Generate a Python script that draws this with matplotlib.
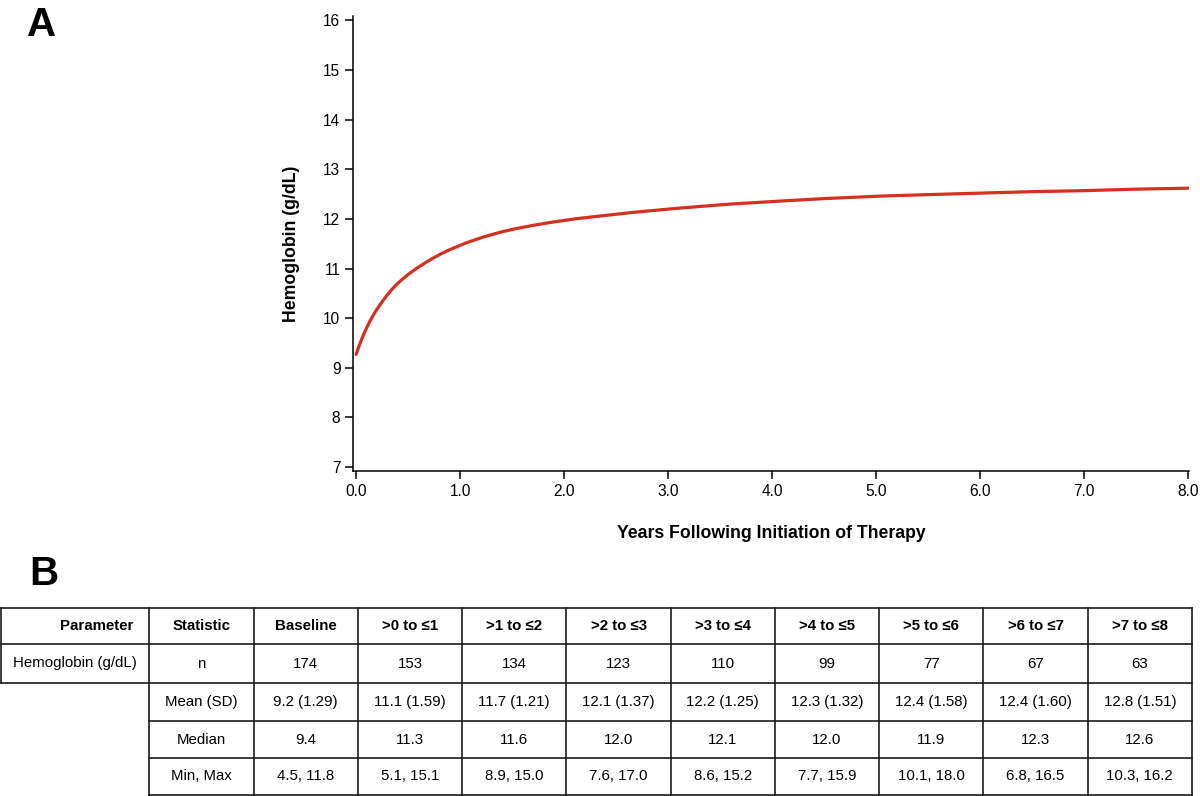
import matplotlib
matplotlib.use("Agg")
import matplotlib.pyplot as plt

plt.rcParams['font.family'] = ['Liberation Sans', 'DejaVu Sans']

# curve (years, g/dL)
years = [0.0, 0.03, 0.07, 0.1, 0.135, 0.165, 0.2, 0.23, 0.26, 0.3, 0.34, 0.38, 0.42,
         0.5, 0.58, 0.66, 0.74, 0.82, 0.9, 1.06, 1.23, 1.4, 1.55, 1.7, 1.87, 2.1,
         2.35, 2.7, 3.12, 3.6, 4.08, 4.5, 5.04, 5.5, 6.0, 6.5, 7.0, 7.5, 8.0]
hb = [9.27, 9.45, 9.66, 9.80, 9.95, 10.06, 10.18, 10.27, 10.36, 10.47, 10.57, 10.66, 10.74,
      10.88, 11.0, 11.11, 11.21, 11.30, 11.38, 11.52, 11.64, 11.74, 11.81, 11.87, 11.93, 12.0,
      12.06, 12.14, 12.22, 12.30, 12.36, 12.41, 12.46, 12.49, 12.52, 12.55, 12.57, 12.60, 12.62]

# table values
headers = ["Parameter", "Statistic", "Baseline", ">0 to ≤1", ">1 to ≤2", ">2 to ≤3",
           ">3 to ≤4", ">4 to ≤5", ">5 to ≤6", ">6 to ≤7", ">7 to ≤8"]
stats = ["n", "Mean (SD)", "Median", "Min, Max"]
n_vals = [174, 153, 134, 123, 110, 99, 77, 67, 63]
means = [9.2, 11.1, 11.7, 12.1, 12.2, 12.3, 12.4, 12.4, 12.8]
sds = [1.29, 1.59, 1.21, 1.37, 1.25, 1.32, 1.58, 1.60, 1.51]
medians = [9.4, 11.3, 11.6, 12.0, 12.1, 12.0, 11.9, 12.3, 12.6]
mins = [4.5, 5.1, 8.9, 7.6, 8.6, 7.7, 10.1, 6.8, 10.3]
maxs = [11.8, 15.1, 15.0, 17.0, 15.2, 15.9, 18.0, 16.5, 16.2]

W, H = 1200, 796
fig = plt.figure(figsize=(12, 7.96), dpi=100)

# panel A
ax = fig.add_axes([353 / W, 1 - 471 / H, (1189 - 353) / W, (471 - 16) / H])
ax.plot(years, hb, color='#d52f20', lw=2.3, solid_capstyle='round',
        solid_joinstyle='round')
ax.set_xlim(-0.03, 8.01)
ax.set_ylim(6.92, 16.09)
ax.set_xticks(range(0, 9))
ax.set_xticklabels([f"{v:.1f}" for v in range(0, 9)])
ax.set_yticks(range(7, 17))
for s in ['top', 'right']:
    ax.spines[s].set_visible(False)
for s in ['left', 'bottom']:
    ax.spines[s].set_linewidth(1.1)
ax.tick_params(direction='out', length=6, width=1.1, labelsize=11.2, pad=3)
ax.set_ylabel("Hemoglobin (g/dL)", fontsize=12.7, fontweight='bold', labelpad=17)
ax.set_xlabel("Years Following Initiation of Therapy", fontsize=12.7,
              fontweight='bold', labelpad=19)

fig.text(27 / W, 1 - 36 / H, "A", fontsize=29, fontweight='bold', va='baseline')
fig.text(29 / W, 1 - 585 / H, "B", fontsize=29, fontweight='bold', va='baseline')

# panel B table, drawn in pixel coordinates
tb = fig.add_axes([0, 0, 1, 1])
tb.set_xlim(0, W)
tb.set_ylim(H, 0)
tb.axis('off')

xs = [1, 149.3] + [149.3 + 104.27 * (i + 1) for i in range(10)]
ys = [608, 644, 683, 721, 758, 795]
lc = '#1a1a1a'
lw = 1.2

for j, y in enumerate(ys):
    x0 = xs[0] if j <= 2 else xs[1]
    tb.plot([x0, xs[-1]], [y, y], color=lc, lw=lw)
for i, x in enumerate(xs):
    y1 = ys[2] if i == 0 else ys[-1]
    tb.plot([x, x], [ys[0], y1], color=lc, lw=lw)

fs = 10.8
def cx(i):
    return (xs[i] + xs[i + 1]) / 2
def cy(j):
    return (ys[j] + ys[j + 1]) / 2

tb.text(133, cy(0), headers[0], ha='right', va='center', fontsize=fs, fontweight='bold')
for i, h in enumerate(headers[1:], start=1):
    tb.text(cx(i), cy(0), h, ha='center', va='center', fontsize=fs, fontweight='bold')

tb.text(cx(0), cy(1), "Hemoglobin (g/dL)", ha='center', va='center', fontsize=fs)
for j, s in enumerate(stats, start=1):
    tb.text(cx(1), cy(j), s, ha='center', va='center', fontsize=fs)

rows = [
    [str(v) for v in n_vals],
    [f"{m:.1f} ({s:.2f})" for m, s in zip(means, sds)],
    [f"{v:.1f}" for v in medians],
    [f"{a:.1f}, {b:.1f}" for a, b in zip(mins, maxs)],
]
for j, row in enumerate(rows, start=1):
    for i, val in enumerate(row, start=2):
        tb.text(cx(i), cy(j), val, ha='center', va='center', fontsize=fs)

fig.savefig("out.png", dpi=100)
